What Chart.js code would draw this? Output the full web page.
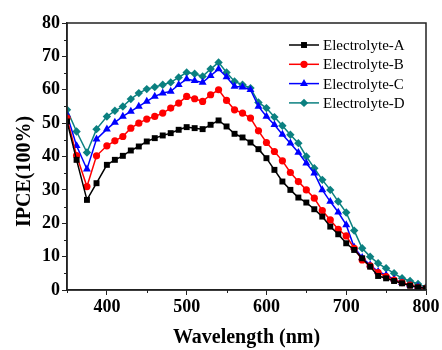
<!DOCTYPE html>
<html>
<head>
<meta charset="utf-8">
<script src="https://cdn.jsdelivr.net/npm/chart.js@4.4.1/dist/chart.umd.min.js"></script>
<style>
  html, body { margin: 0; padding: 0; background: #fff; }
  #wrap { width: 442px; height: 350px; position: relative; }
</style>
</head>
<body>
<div id="wrap"><canvas id="ipce"></canvas></div>
<script>
// --- Datos ---
const wavelengths = [350, 362, 375, 387, 400,
  410, 420, 430, 440, 450, 460, 470, 480, 490, 500,
  510, 520, 530, 540, 550, 560, 570, 580, 590, 600,
  610, 620, 630, 640, 650, 660, 670, 680, 690, 700,
  710, 720, 730, 740, 750, 760, 770, 780, 790, 800];

const electrolyteA = [50.5, 39, 27, 32, 37.5,
  39, 40.2, 41.8, 43, 44.5, 45.5, 46.3, 47, 48, 48.8,
  48.5, 48.2, 49.5, 50.8, 49, 46.8, 45.7, 44.2, 42.2, 39.5,
  36, 32.5, 30, 27.7, 26.2, 24.2, 22, 19, 16.7, 14,
  12, 9.5, 7, 4.2, 3.5, 2.7, 2, 1.3, 0.8, 0.5];

const electrolyteB = [51.5, 40.3, 31, 40.2, 43.2,
  44.7, 46, 48.5, 50, 51.2, 52, 53, 54.5, 56, 58,
  57.3, 56.5, 58.5, 60, 56.8, 54, 53, 51.5, 47.7, 44.2,
  41.5, 38.7, 35.2, 32.5, 30, 27.5, 23.8, 21, 18.2, 16.2,
  12.5, 9, 7.2, 5.2, 4, 3, 2.2, 1.5, 0.8, 0.5];

const electrolyteC = [52.5, 43.2, 36.2, 45.2, 48.2,
  50.2, 52, 53.5, 55, 56.5, 58, 59, 59.5, 61.5, 63.2,
  62.7, 62.2, 64.2, 66.2, 63.8, 61, 60.8, 60, 55, 52,
  49.5, 46.6, 44, 41.2, 38, 35, 30, 26.5, 23.3, 19.5,
  12.8, 9.7, 7.5, 5.5, 4.5, 3.2, 2.2, 1.5, 1, 0.5];

const electrolyteD = [54, 47.5, 41.2, 48.2, 52,
  53.7, 55, 57.2, 59, 60.2, 60.8, 61.5, 62.2, 63.7, 65.2,
  64.8, 64, 66.2, 68.2, 65.2, 62.5, 61.5, 60.5, 56.2, 54.5,
  51.8, 49.2, 46.5, 44, 40, 36.5, 33, 30, 26.5, 23.2,
  17.8, 12.5, 10, 8, 6.5, 5, 3.5, 2.7, 1.8, 0.8];

const seriesLabels = ['Electrolyte-A', 'Electrolyte-B', 'Electrolyte-C', 'Electrolyte-D'];
const xTickLabels = [400, 500, 600, 700, 800];
const yTickLabels = [0, 10, 20, 30, 40, 50, 60, 70, 80];

// --- Estilos ---
const serif = "'Liberation Serif', 'Times New Roman', serif";
const axisColor = '#222';
const styles = [
  { color: '#000000', shape: 'rect', r: 4.2 },
  { color: '#ff0000', shape: 'circle', r: 3.6 },
  { color: '#0000ff', shape: 'triangle', r: 4.6 },
  { color: '#0b8080', shape: 'rectRot', r: 4.2 }
];
const allSeries = [electrolyteA, electrolyteB, electrolyteC, electrolyteD];

const datasets = allSeries.map((vals, i) => ({
  label: seriesLabels[i],
  data: wavelengths.map((w, j) => ({ x: w, y: vals[j] })),
  borderColor: styles[i].color,
  backgroundColor: styles[i].color,
  borderWidth: 1.5,
  pointStyle: styles[i].shape,
  pointRadius: styles[i].r,
  pointBorderWidth: 0,
  tension: 0
}));

// Marco, ticks menores y leyenda dentro del área
const framePlugin = {
  id: 'frame',
  afterDraw(chart) {
    const { ctx, chartArea: a, scales } = chart;
    ctx.save();
    ctx.strokeStyle = axisColor;
    ctx.lineWidth = 1.5;
    ctx.strokeRect(a.left, a.top, a.right - a.left, a.bottom - a.top);

    // ticks menores
    ctx.lineWidth = 1;
    for (let v = 350; v <= 800; v += 50) {
      if (xTickLabels.includes(v)) continue;
      const px = Math.round(scales.x.getPixelForValue(v)) + 0.5;
      ctx.beginPath(); ctx.moveTo(px, a.bottom); ctx.lineTo(px, a.bottom + 3); ctx.stroke();
    }
    for (let v = 5; v < 80; v += 10) {
      const py = Math.round(scales.y.getPixelForValue(v)) + 0.5;
      ctx.beginPath(); ctx.moveTo(a.left, py); ctx.lineTo(a.left - 3, py); ctx.stroke();
    }

    // leyenda
    const lx = 289, ly = 45, gap = 19.3;
    ctx.font = '15px ' + serif;
    ctx.textBaseline = 'middle';
    ctx.textAlign = 'left';
    chart.data.datasets.forEach((ds, i) => {
      const y = ly + i * gap;
      ctx.strokeStyle = ds.borderColor;
      ctx.lineWidth = 1.5;
      ctx.beginPath(); ctx.moveTo(lx, y); ctx.lineTo(lx + 30, y); ctx.stroke();
      ctx.fillStyle = ds.backgroundColor;
      Chart.helpers.drawPoint(ctx, {
        pointStyle: ds.pointStyle, radius: ds.pointRadius, borderWidth: 0, rotation: 0
      }, lx + 15, y);
      ctx.fillStyle = '#000';
      ctx.fillText(ds.label, lx + 34, y + 1);
    });
    ctx.restore();
  }
};

const ctx = document.getElementById('ipce').getContext('2d');
new Chart(ctx, {
  type: 'line',
  data: { datasets: datasets },
  options: {
    responsive: true,
    maintainAspectRatio: false,
    animation: false,
    layout: { padding: { left: 0, top: 23, right: 16, bottom: 0 } },
    plugins: { legend: { display: false }, tooltip: { enabled: false } },
    scales: {
      x: {
        type: 'linear',
        min: 350,
        max: 800,
        afterFit: (s) => { s.height = 60; },
        border: { display: true, color: axisColor, width: 1.5 },
        grid: {
          drawOnChartArea: false,
          tickLength: 5,
          tickColor: (c) => xTickLabels.includes(c.tick && c.tick.value) ? axisColor : 'rgba(0,0,0,0)'
        },
        ticks: {
          stepSize: 50,
          color: '#000',
          padding: 2,
          maxRotation: 0,
          font: { family: serif, size: 18, weight: 'bold' },
          callback: (v) => xTickLabels.includes(v) ? String(v) : ''
        },
        title: {
          display: true,
          text: 'Wavelength (nm)',
          color: '#000',
          padding: { top: 4, bottom: 0 },
          font: { family: serif, size: 20, weight: 'bold' }
        }
      },
      y: {
        min: 0,
        max: 80,
        afterFit: (s) => { s.width = 67; },
        border: { display: true, color: axisColor, width: 1.5 },
        grid: { drawOnChartArea: false, tickLength: 5, tickColor: axisColor },
        ticks: {
          stepSize: 10,
          color: '#000',
          padding: 2,
          font: { family: serif, size: 18, weight: 'bold' },
          callback: (v) => yTickLabels.includes(v) ? String(v) : ''
        },
        title: {
          display: true,
          // espacios finales: el título del original está algo más abajo del centro
          text: 'IPCE(100%)      ',
          color: '#000',
          padding: { top: 13, bottom: 0 },
          font: { family: serif, size: 20, weight: 'bold' }
        }
      }
    }
  },
  plugins: [framePlugin]
});
</script>
</body>
</html>
